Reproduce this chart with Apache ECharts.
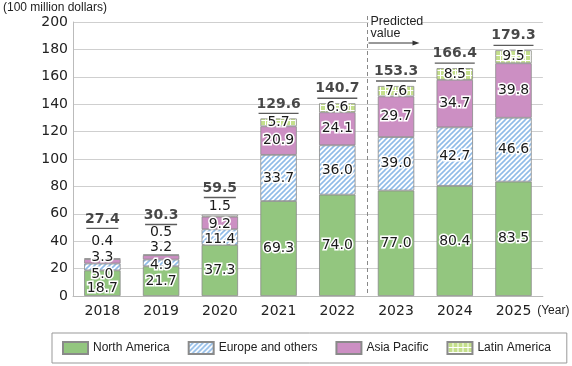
<!DOCTYPE html>
<html><head><meta charset="utf-8">
<script src="https://cdn.jsdelivr.net/npm/echarts@6/dist/echarts.min.js"></script>
<style>html,body{margin:0;padding:0;background:#fff}#c{width:572px;height:366px}</style>
</head><body><div id="c"></div>
<script>
const years = ['2018','2019','2020','2021','2022','2023','2024','2025'];
const northAmerica = [18.7, 21.7, 37.3, 69.3, 74.0, 77.0, 80.4, 83.5];
const europeOthers = [5.0, 4.9, 11.4, 33.7, 36.0, 39.0, 42.7, 46.6];
const asiaPacific  = [3.3, 3.2, 9.2, 20.9, 24.1, 29.7, 34.7, 39.8];
const latinAmerica = [0.4, 0.5, 1.5, 5.7, 6.6, 7.6, 8.5, 9.5];
const totals       = [27.4, 30.3, 59.5, 129.6, 140.7, 153.3, 166.4, 179.3];
const seriesNames = ['North America', 'Europe and others', 'Asia Pacific', 'Latin America'];
const yMin = 0, yMax = 200, yStep = 20;

// label vertical nudges (layout only) for the small early bars
const segOffsets = [
  [5, 7, -4, -17],
  [0, 2, -10, -22],
  [0, 2, 1, -9]
];
const totalOffsets = [-25, -25, -12];

function hatch() {
  const n = 5, c = document.createElement('canvas'); c.width = c.height = n;
  const g = c.getContext('2d');
  g.fillStyle = '#ffffff'; g.fillRect(0, 0, n, n);
  g.strokeStyle = '#8fbbe8'; g.lineWidth = 1.6;
  [[-n, n, n, -n], [0, n, n, 0], [0, 2 * n, 2 * n, 0]].forEach(l => {
    g.beginPath(); g.moveTo(l[0], l[1]); g.lineTo(l[2], l[3]); g.stroke();
  });
  return c;
}
function grid() {
  const n = 5, c = document.createElement('canvas'); c.width = c.height = n;
  const g = c.getContext('2d');
  g.fillStyle = '#c4df8c'; g.fillRect(0, 0, n, n);
  g.fillStyle = '#ffffff'; g.fillRect(0, 0, n, 1); g.fillRect(0, 0, 1, n);
  return c;
}
const colors = ['#93c67f', { image: hatch(), repeat: 'repeat' }, '#cc8fc3', { image: grid(), repeat: 'repeat' }];
const dataSets = [northAmerica, europeOthers, asiaPacific, latinAmerica];

const numFont = 'DejaVu Sans';
const textFont = '"Liberation Sans",Arial,sans-serif';

const barSeries = dataSets.map((arr, si) => ({
  name: seriesNames[si],
  type: 'bar',
  stack: 'total',
  barWidth: '62%',
  itemStyle: { color: colors[si], borderColor: '#8a8a8a', borderWidth: 0.8 },
  label: {
    show: true, position: 'inside', fontFamily: numFont, fontSize: 14,
    color: '#1a1a1a', textBorderColor: '#fff', textBorderWidth: 3,
    formatter: p => p.value.toFixed(1)
  },
  data: arr.map((v, i) => {
    const o = segOffsets[i] ? segOffsets[i][si] : 0;
    return o ? { value: v, label: { offset: [0, o] } } : v;
  })
}));

const totalSeries = {
  name: 'Total', type: 'scatter', symbolSize: 0, z: 10, silent: true,
  label: {
    show: true, position: 'top', distance: 4,
    formatter: p => '{t|' + p.value.toFixed(1) + '}\n{u| }',
    rich: {
      t: { fontFamily: numFont, fontSize: 14, fontWeight: 'bold', color: '#1a1a1a', lineHeight: 17 },
      u: { width: 32, height: 1.3, lineHeight: 2, fontSize: 1, backgroundColor: '#333' }
    }
  },
  data: totals.map((v, i) => {
    const w = v >= 100 ? 40 : 32;
    const lab = { rich: { u: { width: w, height: 1.3, lineHeight: 2, fontSize: 1, backgroundColor: '#333' } } };
    if (totalOffsets[i] !== undefined) lab.offset = [0, totalOffsets[i]];
    return { value: v, label: lab };
  })
};

const chart = echarts.init(document.getElementById('c'));
chart.setOption({
  animation: false,
  title: { text: '(100 million dollars)', left: 0, top: 0, padding: [2, 3],
    textStyle: { fontFamily: textFont, fontSize: 12, fontWeight: 'normal', color: '#222' } },
  grid: { left: 73, right: 22, top: 22, bottom: 70 },
  legend: {
    data: seriesNames, left: 52, top: 333, orient: 'horizontal', width: 560,
    itemWidth: 25, itemHeight: 12, icon: 'rect', itemGap: 18,
    padding: [8, 16, 8, 10], borderColor: '#999', borderWidth: 1,
    textStyle: { fontFamily: textFont, fontSize: 12, color: '#222' }
  },
  xAxis: {
    type: 'category', data: years,
    axisLine: { lineStyle: { color: '#bbb' } },
    axisTick: { inside: true, length: 5, lineStyle: { color: '#bbb' } },
    axisLabel: { fontFamily: numFont, fontSize: 14, color: '#222', margin: 8 },
    name: '(Year)', nameLocation: 'end', nameGap: -11,
    nameTextStyle: { fontFamily: textFont, fontSize: 12, color: '#222', align: 'left', verticalAlign: 'top', padding: [9, 0, 0, 0] }
  },
  yAxis: {
    type: 'value', min: yMin, max: yMax, interval: yStep,
    axisLine: { show: true, lineStyle: { color: '#bbb' } },
    axisTick: { show: false },
    splitLine: { lineStyle: { color: '#cfcfcf' } },
    axisLabel: { fontFamily: numFont, fontSize: 14, color: '#222', margin: 5 }
  },
  series: barSeries.concat([totalSeries])
});

// "Predicted value" annotation between 2022 and 2023
const xa = chart.convertToPixel({ xAxisIndex: 0 }, years[4]);
const xb = chart.convertToPixel({ xAxisIndex: 0 }, years[5]);
const xd = Math.round((xa + xb) / 2) + 0.5;
const yTop = chart.convertToPixel({ yAxisIndex: 0 }, yMax);
const yBot = chart.convertToPixel({ yAxisIndex: 0 }, yMin);
chart.setOption({
  graphic: [
    { type: 'rect', z: 5, shape: { x: xd + 1, y: yTop - 6, width: 53, height: 14 }, style: { fill: '#fff' } },
    { type: 'line', z: 6, shape: { x1: xd, y1: yTop - 6, x2: xd, y2: yBot }, style: { stroke: '#888', lineWidth: 1, lineDash: [4, 3] } },
    { type: 'text', z: 7, x: xd + 3, y: yTop - 6, style: { text: 'Predicted\nvalue', font: '12.5px ' + textFont, fill: '#222', lineHeight: 12 } },
    { type: 'line', z: 6, shape: { x1: xd + 1, y1: yTop + 21, x2: xd + 48, y2: yTop + 21 }, style: { stroke: '#333', lineWidth: 1 } },
    { type: 'polygon', z: 6, shape: { points: [[xd + 52, yTop + 21], [xd + 45, yTop + 18.5], [xd + 45, yTop + 23.5]] }, style: { fill: '#333' } }
  ]
});
</script></body></html>
